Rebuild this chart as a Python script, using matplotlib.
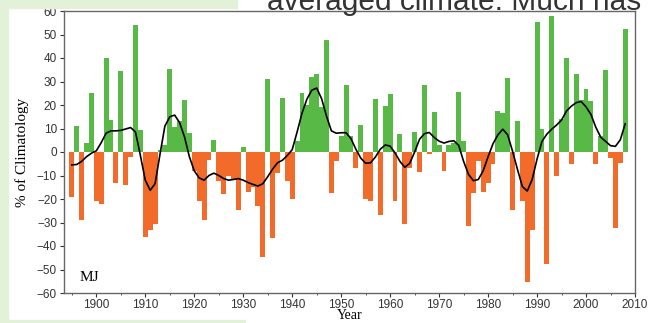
import numpy as np
import matplotlib.pyplot as plt
from matplotlib.patches import Rectangle

# yearly anomaly, % of climatology (1895-2008)
years = list(range(1895, 2009))
anomaly = [
    -19, 11, -29, 4, 25, -21, -22, 40, 13.5, -13,      # 1895-1904
    34.5, -14, -2, 54, 9.5, -36, -33, -30.5, 0.7, 3,     # 1905-1914
    35.5, 10.5, 13, 22, 8, -8, -21, -29, -3.5, 5,        # 1915-1924
    -12.5, -18, -10, -11.5, -24.5, 2, -17, -15, -23, -44.5,  # 1925-1934
    31, -36.5, -9, 23, -12.5, -20, 4.5, 25, 20, 32,      # 1935-1944
    33, 19, 47.5, -17.5, -4, 7, 28.5, 7, -7, 11.5,       # 1945-1954
    -20, -21, 22.5, -27, 19.5, 24.5, -21, 7.5, -30.5, -7,  # 1955-1964
    8.5, -8.5, 28.5, -1, 17, 3, -8, 3, 4, 25.5,          # 1965-1974
    4.5, -31.5, -17.5, -4, -17, -13, -5, 17.5, 16.5, 31.5,  # 1975-1984
    -24.5, 13, -21, -55.5, -33, 55.5, 10, -47.5, 58, -10,   # 1985-1994
    14, 40, -5, 33, 22, 27, 21.5, -5, 7, 35,             # 1995-2004
    -2.5, -32.5, -4.5, 52.5,                             # 2005-2008
]
# smoothed curve
smooth = [
    -5.5, -5.3, -4, -2, -0.5, 0.5, 4, 8, 9, 9,
    9.2, 9.8, 10.4, 8.5, -1.5, -12, -16.3, -13.5, -1, 11,
    15, 15.7, 12.5, 6.5, -2, -8, -11, -12, -10, -9,
    -10, -11.3, -12, -11.7, -11.3, -12, -13, -13.8, -14.5, -13.5,
    -10.5, -7.3, -4.6, -3.5, -1.5, 1, 8.5, 16.5, 22.5, 26.3,
    27.2, 22.7, 15.3, 9, 8, 8.2, 8.2, 5.7, 1.2, -2.6,
    -4.8, -4.6, -2.1, 1.2, 3, 2.5, -0.4, -4, -6.5, -4.8,
    0, 5.4, 7.8, 8.3, 6.2, 4.6, 3.8, 4.5, 4.8, 2.8,
    -4, -9.5, -12.2, -11.7, -8, -2, 3.5, 7.3, 9.7, 7.3,
    0.3, -7.4, -14.7, -16.6, -11.7, -3, 4.5, 7.6, 9.7, 11.5,
    13.6, 17.4, 19.5, 21, 21.5, 19.2, 16, 10.5, 6.3, 4.5,
    2.7, 2.4, 5.2, 12,
]
yticks = list(range(-60, 61, 10))
xticks = list(range(1900, 2011, 10))

green = '#58b947'
orange = '#f26b2a'
bg = '#e4f1d9'

fig = plt.figure(figsize=(6.5, 3.23), dpi=100)
fig.patch.set_facecolor('white')

# slide decorations around the figure
W, H = 650.0, 323.0
fig.patches.append(Rectangle((0, 0), 8 / W, 1, transform=fig.transFigure, color=bg, zorder=0))
fig.patches.append(Rectangle((0, 1 - 8 / H), 237 / W, 8 / H, transform=fig.transFigure, color=bg, zorder=0))
fig.patches.append(Rectangle((0, 0), 245 / W, 3 / H, transform=fig.transFigure, color=bg, zorder=0))
fig.text(267 / W, 1 - 10 / H, 'averaged climate. Much has', fontsize=21.5,
         family='Liberation Sans', color='#333333', va='baseline', ha='left')

ax = fig.add_axes([64 / W, 1 - 293 / H, (635 - 64) / W, (293 - 11) / H])

arr = np.array(anomaly)
colors = [green if v >= 0 else orange for v in arr]
ax.bar(years, arr, width=1.0, color=colors, linewidth=0)
ax.plot(years, smooth, color='black', lw=1.2)

ax.set_xlim(1893.4, 2010)
ax.set_ylim(-60, 60)
ax.set_xticks(xticks)
ax.set_yticks(yticks)
ax.set_yticklabels([str(t).replace('-', '\u2212') for t in yticks])
ax.xaxis.set_minor_locator(plt.MultipleLocator(5))
ax.tick_params(axis='both', which='major', direction='out', length=3, width=0.8,
               labelsize=8.5, colors='#333333', pad=2)
ax.tick_params(axis='x', which='major', pad=1)
ax.tick_params(axis='x', which='minor', direction='out', length=1.5, width=0.6, colors='#333333')
for lab in ax.get_xticklabels() + ax.get_yticklabels():
    lab.set_family('Liberation Sans')

for sp in ax.spines.values():
    sp.set_color('#666666')
    sp.set_linewidth(1.0)

ax.set_xlabel('Year', family='Liberation Serif', fontsize=10, labelpad=-1)
ax.set_ylabel('% of Climatology', family='Liberation Serif', fontsize=11, labelpad=6)
ax.text(1896.5, -55, 'MJ', family='Liberation Serif', fontsize=11)

fig.savefig('out.png', dpi=100)
